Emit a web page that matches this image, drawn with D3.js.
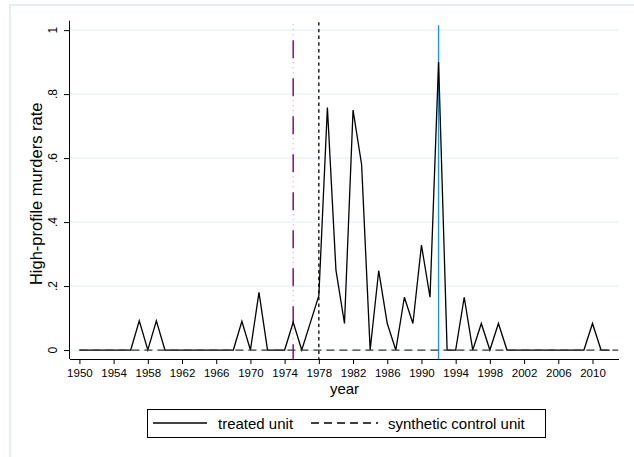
<!DOCTYPE html>
<html>
<head>
<meta charset="utf-8">
<script src="https://cdn.jsdelivr.net/npm/d3@7"></script>
<style>
  body { margin: 0; background: #fff; }
  text { font-family: "Liberation Sans", Arial, sans-serif; }
</style>
</head>
<body>
<div class="chart"></div>
<script>

// data
var years = d3.range(1950, 2013);
var treated = [
  0, 0, 0, 0, 0, 0, 0, 0.091, 0, 0.091,          // 1950-1959
  0, 0, 0, 0, 0, 0, 0, 0, 0, 0.09,               // 1960-1969
  0, 0.18, 0, 0, 0, 0.087, 0, 0.085, 0.17, 0.758, // 1970-1979
  0.25, 0.083, 0.75, 0.58, 0, 0.248, 0.083, 0, 0.165, 0.083, // 1980-1989
  0.328, 0.165, 0.9, 0, 0, 0.165, 0, 0.083, 0, 0.083,        // 1990-1999
  0, 0, 0, 0, 0, 0, 0, 0, 0, 0,                  // 2000-2009
  0.083, 0, 0                                    // 2010-2012
];
var synthYears = d3.range(1950, 2014);
var synthetic = synthYears.map(function () { return 0; });

var xTicks = d3.range(1950, 2011, 4);
var yTicks = [0, 0.2, 0.4, 0.6, 0.8, 1];
var yTickLabels = ['0', '.2', '.4', '.6', '.8', '1'];
var eventYears = [1975, 1978, 1992];
var legendLabels = ['treated unit', 'synthetic control unit'];

var width = 634, height = 457;
var plot = { left: 70, right: 619, top: 20.7, bottom: 359 };

var svg = d3.select('.chart').append('svg')
  .attr('width', width)
  .attr('height', height);

svg.append('rect')
  .attr('width', width).attr('height', height)
  .attr('fill', '#fff');

// light outer frame (runs off the right and bottom edges)
svg.append('path')
  .attr('d', 'M10,' + height + 'V5H' + width)
  .attr('fill', 'none')
  .attr('stroke', '#e6eef0')
  .attr('stroke-width', 2);

var x = d3.scaleLinear()
  .domain([1948.9, 2013.1])
  .range([plot.left, plot.right]);

var y = d3.scaleLinear()
  .domain([-0.028, 1.0295])
  .range([plot.bottom, plot.top]);

// gridlines
svg.append('g').selectAll('line')
  .data(yTicks)
  .enter().append('line')
  .attr('x1', plot.left).attr('x2', plot.right)
  .attr('y1', function (d) { return y(d); })
  .attr('y2', function (d) { return y(d); })
  .attr('stroke', '#eaf1f3')
  .attr('stroke-width', 1.3);

// axes
var xAxis = d3.axisBottom(x)
  .tickValues(xTicks)
  .tickSize(5)
  .tickSizeOuter(0)
  .tickFormat(d3.format('d'));

var gx = svg.append('g')
  .attr('transform', 'translate(0,' + plot.bottom + ')')
  .call(xAxis);
gx.select('.domain').attr('d', 'M' + plot.left + ',0.5H' + plot.right);
gx.selectAll('text')
  .attr('y', 18).attr('dy', null)
  .attr('fill', '#000')
  .style('font-size', '11.5px');

var yAxis = d3.axisLeft(y)
  .tickValues(yTicks)
  .tickSize(6)
  .tickSizeOuter(0)
  .tickFormat('');

var gy = svg.append('g')
  .attr('transform', 'translate(' + plot.left + ',0)')
  .call(yAxis);
gy.select('.domain').attr('d', 'M-0.5,' + plot.top + 'V' + plot.bottom);

svg.selectAll('.tick line').attr('stroke', '#000');
svg.selectAll('.domain').attr('stroke', '#000');

// rotated y tick labels
svg.append('g').selectAll('text')
  .data(yTicks)
  .enter().append('text')
  .attr('transform', function (d) {
    return 'translate(' + (plot.left - 13) + ',' + y(d) + ') rotate(-90)';
  })
  .style('text-anchor', 'middle')
  .style('font-size', '12px')
  .text(function (d, i) { return yTickLabels[i]; });

// axis titles
svg.append('text')
  .attr('transform', 'translate(42,' + ((plot.top + plot.bottom) / 2 + 4) + ') rotate(-90)')
  .style('text-anchor', 'middle')
  .style('font-size', '16.5px')
  .text('High-profile murders rate');

svg.append('text')
  .attr('x', (plot.left + plot.right) / 2)
  .attr('y', 394)
  .style('text-anchor', 'middle')
  .style('font-size', '15px')
  .text('year');

// event lines
var vTop = y(1.0295) + 1.5;
// 1975: purple long dash with pale dots
svg.append('line')
  .attr('x1', x(eventYears[0])).attr('x2', x(eventYears[0]))
  .attr('y1', vTop).attr('y2', plot.bottom)
  .attr('stroke', '#d49ed4')
  .attr('stroke-width', 1.2)
  .attr('stroke-dasharray', '0,2,1,4,1,4,1,25');
svg.append('line')
  .attr('x1', x(eventYears[0])).attr('x2', x(eventYears[0]))
  .attr('y1', vTop).attr('y2', plot.bottom)
  .attr('stroke', '#8c1a8c')
  .attr('stroke-width', 1.6)
  .attr('stroke-dasharray', '18,20')
  .attr('stroke-dashoffset', 20);
// 1978: black short dash
svg.append('line')
  .attr('x1', x(eventYears[1])).attr('x2', x(eventYears[1]))
  .attr('y1', vTop).attr('y2', plot.bottom)
  .attr('stroke', '#000')
  .attr('stroke-width', 1.3)
  .attr('stroke-dasharray', '3.4,3.3');
// 1992: blue solid
svg.append('line')
  .attr('x1', x(eventYears[2])).attr('x2', x(eventYears[2]))
  .attr('y1', vTop + 3).attr('y2', plot.bottom)
  .attr('stroke', '#1f97cc')
  .attr('stroke-width', 1.4);

// series
var line = d3.line()
  .x(function (d) { return x(d[0]); })
  .y(function (d) { return y(d[1]); });

svg.append('path')
  .datum(years.map(function (yr, i) { return [yr, treated[i]]; }))
  .attr('d', line)
  .attr('fill', 'none')
  .attr('stroke', '#000')
  .attr('stroke-width', 1.3)
  .attr('stroke-linejoin', 'miter');

svg.append('path')
  .datum(synthYears.map(function (yr, i) { return [yr, synthetic[i]]; }))
  .attr('d', line)
  .attr('fill', 'none')
  .attr('stroke', '#3a3a3a')
  .attr('stroke-width', 1.3)
  .attr('stroke-dasharray', '8,5');

// legend
var lg = svg.append('g');
lg.append('rect')
  .attr('x', 147.5).attr('y', 409.5)
  .attr('width', 398).attr('height', 28)
  .attr('fill', '#fff')
  .attr('stroke', '#000')
  .attr('stroke-width', 1);

lg.append('line')
  .attr('x1', 153).attr('x2', 207)
  .attr('y1', 423).attr('y2', 423)
  .attr('stroke', '#000').attr('stroke-width', 1.3);
lg.append('text')
  .attr('x', 218).attr('y', 429)
  .style('font-size', '15px')
  .text(legendLabels[0]);

lg.append('line')
  .attr('x1', 311).attr('x2', 378)
  .attr('y1', 423).attr('y2', 423)
  .attr('stroke', '#000').attr('stroke-width', 1.3)
  .attr('stroke-dasharray', '8,5');
lg.append('text')
  .attr('x', 388).attr('y', 429)
  .style('font-size', '15px')
  .text(legendLabels[1]);

</script>
</body>
</html>
